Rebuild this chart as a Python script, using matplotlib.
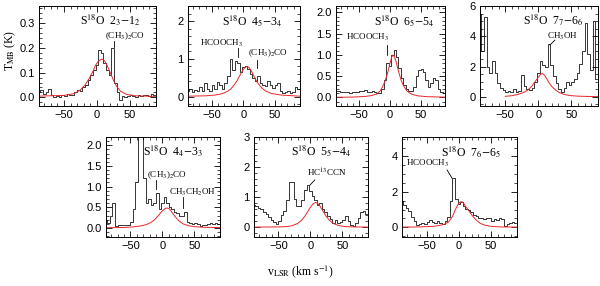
import numpy as np
import matplotlib
matplotlib.use('Agg')
import matplotlib.pyplot as plt
from matplotlib.ticker import MultipleLocator

plt.rcParams['font.family'] = 'Liberation Sans'
plt.rcParams['mathtext.fontset'] = 'stix'

# velocity channels (km/s)
vel = np.arange(-88, 89, 4)

# observed spectra, T_MB (K)
t_2312 = [0.02, 0.03, 0.015, 0.02, 0.035, 0.01, 0.0, 0.005, 0.0, 0.01, 0.005, 0.012,
          0.008, 0.01, 0.02, 0.03, 0.025, 0.04, 0.05, 0.07, 0.09, 0.11, 0.13, 0.19,
          0.18, 0.14, 0.11, 0.09, 0.2, 0.06, 0.02, -0.01, 0.005, 0.0, 0.005, 0.01,
          0.005, 0.0, 0.008, 0.005, 0.01, 0.008, 0.005, 0.012, 0.008]
t_4534 = [0.15, 0.2, 0.12, 0.18, 0.15, 0.25, 0.15, 0.35, 0.2, 0.15, 0.3, 0.2,
          0.38, 0.3, 0.2, 0.35, 0.55, 1.0, 0.7, 0.95, 0.9, 0.65, 0.78, 0.8,
          0.72, 0.6, 0.5, 0.42, 0.55, 0.35, 0.3, 0.28, 0.4, 0.3, 0.22, 0.3,
          0.35, 0.15, 0.1, 0.12, 0.15, 0.1, 0.12, 0.25, 0.2]
t_6554 = [0.15, 0.15, 0.12, 0.13, 0.12, 0.12, 0.11, 0.12, 0.13, 0.14, 0.15, 0.15,
          0.18, 0.14, 0.12, 0.15, 0.12, 0.1, 0.1, 0.2, 0.4, 0.8, 0.75, 1.0,
          1.12, 0.95, 0.7, 0.45, 0.3, 0.2, 0.15, 0.15, 0.25, 0.5, 0.65, 0.68,
          0.6, 0.4, 0.25, 0.35, 0.45, 0.4, 0.2, 0.12, 0.1]
t_7766 = [5.5, 3.0, 5.3, 2.0, 1.6, 2.4, 1.6, 0.9, 0.6, 0.45, 0.35, 0.4,
          0.3, 0.5, 0.35, 0.4, 1.45, 0.7, 0.55, 0.45, 0.6, 1.0, 1.6, 2.4,
          2.1, 2.0, 3.5, 2.1, 1.4, 0.9, 0.5, 0.3, 0.6, 1.0, 0.8, 1.0,
          1.2, 1.6, 2.2, 3.0, 4.9, 2.8, 1.8, 5.0, 1.2]
t_4433 = [0.2, 0.12, 0.3, 0.6, 0.05, 0.06, 0.07, 0.06, 0.07, 0.08, 0.15, 0.45,
          1.1, 2.4, 2.6, 1.2, 0.6, 0.7, 0.55, 0.6, 0.85, 0.45, 0.6, 0.75,
          0.6, 0.5, 0.45, 0.38, 0.35, 0.3, 0.28, 0.38, 0.15, 0.12, 0.1, 0.12,
          0.1, 0.05, 0.08, 0.08, 0.1, 0.12, 0.09, 0.12, 0.1]
t_5544 = [0.75, 0.7, 0.65, 0.6, 0.5, 0.42, 0.32, 0.25, 0.18, 0.1, 0.2, 0.4,
          0.55, 0.9, 1.5, 1.5, 0.95, 0.7, 0.7, 0.9, 1.25, 1.4, 1.2, 1.05,
          0.9, 0.75, 0.8, 0.6, 0.5, 0.38, 0.28, 0.15, 0.22, 0.15, 0.18, 0.22,
          0.36, 0.2, 0.08, 0.05, 0.12, 0.3, 0.5, 0.55, 0.45]
t_7665 = [1.5, 1.25, 1.1, 0.9, 0.6, 0.35, 0.1, 0.2, 0.25, 0.2, 0.3, 0.4,
          0.3, 0.25, 0.35, 0.25, 0.2, 0.35, 0.6, 1.5, 2.8, 1.6, 1.3, 1.4,
          1.2, 1.05, 0.95, 0.85, 0.7, 0.65, 0.55, 0.5, 0.45, 0.55, 0.5, 0.35,
          0.45, 0.4, 0.5, 0.45, 0.05, 0.2, 0.25, 0.3, 0.25]

# model fits (red)
fv_2312 = [-88, -50, -35, -25, -18, -12, -6, -2, 2, 5, 8, 11, 14, 18, 22, 26, 30, 36, 45, 60, 90]
ft_2312 = [0.005, 0.008, 0.015, 0.03, 0.05, 0.075, 0.105, 0.13, 0.145, 0.152, 0.155, 0.15,
           0.138, 0.115, 0.09, 0.065, 0.045, 0.025, 0.012, 0.006, 0.004]
fv_4534 = [-88, -60, -45, -35, -26, -20, -14, -10, -5, 0, 3, 6, 9, 13, 18, 22, 28, 35, 45, 60, 90]
ft_4534 = [0.01, 0.02, 0.04, 0.07, 0.13, 0.2, 0.32, 0.42, 0.58, 0.72, 0.78, 0.8, 0.77,
           0.67, 0.5, 0.38, 0.25, 0.15, 0.08, 0.04, 0.01]
fv_6554 = [-88, -60, -40, -30, -22, -16, -12, -8, -4, 0, 3, 5, 7, 10, 14, 18, 22, 28, 35, 45, 60, 90]
ft_6554 = [0.005, 0.01, 0.025, 0.045, 0.08, 0.15, 0.25, 0.38, 0.56, 0.8, 0.95, 1.0, 0.97,
           0.85, 0.62, 0.42, 0.28, 0.15, 0.08, 0.04, 0.02, 0.008]
fv_7766 = [-50, -40, -30, -22, -16, -10, -5, 0, 3, 6, 9, 12, 16, 20, 26, 32, 40, 50, 60, 75, 90]
ft_7766 = [0.04, 0.08, 0.17, 0.3, 0.45, 0.7, 1.0, 1.3, 1.48, 1.55, 1.45, 1.25, 0.95,
           0.7, 0.45, 0.28, 0.15, 0.08, 0.05, 0.03, 0.02]
fv_4433 = [-88, -60, -45, -35, -25, -18, -12, -6, -2, 2, 5, 8, 11, 15, 20, 26, 32, 40, 50, 65, 90]
ft_4433 = [0.005, 0.01, 0.025, 0.045, 0.08, 0.13, 0.2, 0.3, 0.38, 0.44, 0.475, 0.48,
           0.46, 0.38, 0.27, 0.17, 0.1, 0.055, 0.03, 0.015, 0.008]
fv_5544 = [-88, -50, -35, -28, -20, -14, -8, -4, 0, 4, 8, 11, 15, 20, 25, 30, 36, 44, 55, 70, 90]
ft_5544 = [0.0, 0.005, 0.02, 0.05, 0.12, 0.22, 0.38, 0.52, 0.66, 0.77, 0.82, 0.8, 0.7,
           0.52, 0.35, 0.22, 0.12, 0.05, 0.015, 0.005, 0.0]
fv_7665 = [-88, -60, -40, -30, -22, -16, -10, -6, -2, 1, 4, 7, 10, 14, 18, 22, 27, 33, 40, 50, 65, 90]
ft_7665 = [0.01, 0.02, 0.05, 0.1, 0.18, 0.3, 0.6, 0.95, 1.25, 1.4, 1.45, 1.38, 1.2, 1.0,
           0.8, 0.6, 0.4, 0.22, 0.12, 0.05, 0.02, 0.01]

titles = [r'S$^{18}$O  2$_3$$-$1$_2$', r'S$^{18}$O  4$_5$$-$3$_4$', r'S$^{18}$O  6$_5$$-$5$_4$',
          r'S$^{18}$O  7$_7$$-$6$_6$', r'S$^{18}$O  4$_4$$-$3$_3$', r'S$^{18}$O  5$_5$$-$4$_4$',
          r'S$^{18}$O  7$_6$$-$6$_5$']
spectra = [t_2312, t_4534, t_6554, t_7766, t_4433, t_5544, t_7665]
fits = [(fv_2312, ft_2312), (fv_4534, ft_4534), (fv_6554, ft_6554), (fv_7766, ft_7766),
        (fv_4433, ft_4433), (fv_5544, ft_5544), (fv_7665, ft_7665)]

W, H = 600, 286
# panel boxes in pixels: left, top, right, bottom
boxes = [(39, 6, 156, 106), (188, 6, 300, 106), (336, 6, 445, 106), (480, 6, 598, 106),
         (106, 137, 220, 237), (254, 137, 368, 237), (402, 137, 517, 237)]
ylims = [(-0.035, 0.37), (-0.25, 2.4), (-0.2, 2.15), (-0.6, 6.0),
         (-0.22, 2.2), (-0.33, 3.0), (-0.55, 5.1)]
yticks = [(0.1, 0.02), (1, 0.2), (0.5, 0.1), (2, 0.5), (0.5, 0.1), (1, 0.2), (2, 0.5)]
title_pos = [(0.61, 0.86), (0.57, 0.85), (0.63, 0.85), (0.62, 0.86),
             (0.59, 0.86), (0.59, 0.86), (0.60, 0.85)]
# line labels: panel, text, label (axes frac), marker segment (data)
labels = [
    (0, '(CH$_3$)$_2$CO', (0.735, 0.70), ((26, 26), (0.205, 0.23))),
    (1, 'HCOOCH$_3$', (0.30, 0.63), ((-8, -8), (1.05, 1.29))),
    (1, '(CH$_3$)$_2$CO', (0.71, 0.53), ((22, 22), (0.76, 0.97))),
    (2, 'HCOOCH$_3$', (0.29, 0.69), ((-5, -5), (1.0, 1.23))),
    (3, 'CH$_3$OH', (0.70, 0.70), ((25, 17.6), (3.75, 3.43))),
    (4, '(CH$_3$)$_2$CO', (0.535, 0.62), ((-10, -10), (0.94, 1.16))),
    (4, 'CH$_3$CH$_2$OH', (0.76, 0.45), ((33, 33), (0.48, 0.75))),
    (5, 'HC$^{13}$CCN', (0.64, 0.64), ((7, -0.5), (1.57, 1.4))),
    (6, 'HCOOCH$_3$', (0.22, 0.74), ((-18.3, -10.6), (3.24, 2.78))),
]

fig = plt.figure(figsize=(W / 100, H / 100), dpi=100)
axes = []
for i, (l, t, r, b) in enumerate(boxes):
    ax = fig.add_axes([l / W, 1 - b / H, (r - l) / W, (b - t) / H])
    ax.step(vel, spectra[i], where='mid', color='black', lw=0.55)
    ax.plot(fits[i][0], fits[i][1], color='#e8262a', lw=0.7)
    ax.set_xlim(-88, 90)
    ax.set_ylim(*ylims[i])
    ax.xaxis.set_major_locator(MultipleLocator(50))
    ax.xaxis.set_minor_locator(MultipleLocator(10))
    ax.yaxis.set_major_locator(MultipleLocator(yticks[i][0]))
    ax.yaxis.set_minor_locator(MultipleLocator(yticks[i][1]))
    ax.tick_params(which='both', direction='in', top=True, right=True, labelsize=8, pad=3)
    ax.tick_params(which='major', length=4, width=0.6)
    ax.tick_params(which='minor', length=2, width=0.5)
    for s in ax.spines.values():
        s.set_linewidth(0.7)
    ax.text(title_pos[i][0], title_pos[i][1], titles[i], transform=ax.transAxes,
            ha='center', va='center', fontsize=8.5, family='Liberation Serif')
    axes.append(ax)

for i, txt, (lx, ly), (mx, my) in labels:
    ax = axes[i]
    ax.text(lx, ly, txt, transform=ax.transAxes, ha='center', va='center',
            fontsize=6.5, family='Liberation Serif')
    ax.plot(mx, my, color='black', lw=0.6)

fig.text(0.017, 0.825, r'T$_{\rm MB}$ (K)', rotation=90, ha='center', va='center',
         fontsize=8.5, family='Liberation Serif')
fig.text(0.5, 0.05, r'v$_{\rm LSR}$ (km s$^{-1}$)', ha='center', va='center',
         fontsize=8.5, family='Liberation Serif')

fig.savefig('out.png', dpi=100)
